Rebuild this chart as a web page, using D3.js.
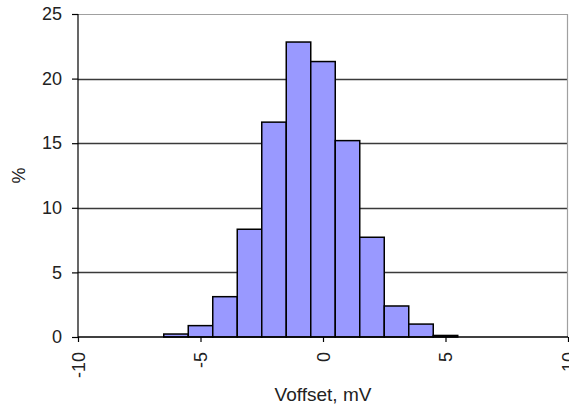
<!DOCTYPE html>
<html><head><meta charset="utf-8">
<script src="https://cdn.jsdelivr.net/npm/d3@7"></script>
<style>
html,body{margin:0;padding:0;background:#fff;}
svg{display:block;}
text{font-family:"Liberation Sans",Arial,sans-serif;fill:#222;}
</style></head>
<body>
<svg id="chart" width="569" height="407"></svg>
<script>
const binCenters = [-6, -5, -4, -3, -2, -1, 0, 1, 2, 3, 4, 5];
const percents = [0.23, 0.88, 3.12, 8.34, 16.63, 22.83, 21.32, 15.2, 7.72, 2.4, 1.0, 0.12];
const xTicks = [-10, -5, 0, 5, 10];
const yTicks = [0, 5, 10, 15, 20, 25];
const xLabel = "Voffset, mV";
const yLabel = "%";

(function () {
const svg = d3.select("#chart");
const pL = 78, pR = 568, pT = 14, pB = 337;
const x = d3.scaleLinear().domain([-10, 10]).range([pL, pR]);
const y = d3.scaleLinear().domain([0, 25]).range([pB, pT]);

// gridlines
svg.append("g").selectAll("line").data(yTicks.filter(d => d > 0 && d < 25)).join("line")
  .attr("x1", pL).attr("x2", pR)
  .attr("y1", d => Math.round(y(d)) + 0.5).attr("y2", d => Math.round(y(d)) + 0.5)
  .attr("stroke", "#3a3a3a").attr("stroke-width", 1.3);
// plot border top/right
svg.append("line").attr("x1", pL).attr("x2", pR).attr("y1", pT + 0.5).attr("y2", pT + 0.5)
  .attr("stroke", "#a0a0a0").attr("stroke-width", 1.2);
svg.append("line").attr("x1", pR - 0.5).attr("x2", pR - 0.5).attr("y1", pT).attr("y2", pB)
  .attr("stroke", "#a0a0a0").attr("stroke-width", 1.2);

// bars
svg.append("g").selectAll("rect").data(binCenters.map((c, i) => ({c, v: percents[i]}))).join("rect")
  .attr("x", d => x(d.c - 0.5))
  .attr("width", d => x(d.c + 0.5) - x(d.c - 0.5))
  .attr("y", d => y(d.v))
  .attr("height", d => y(0) - y(d.v))
  .attr("fill", "#9999ff")
  .attr("stroke", "#000")
  .attr("stroke-width", 1.5);

const fmt = d => String(d);

// y axis
const yAxis = d3.axisLeft(y).tickValues(yTicks).tickSize(6).tickPadding(10).tickFormat(fmt);
const gy = svg.append("g").attr("transform", `translate(${pL},0)`).call(yAxis);
gy.select(".domain").attr("stroke", "#000").attr("stroke-width", 1.2).attr("d", `M0,${pT}V${pB}`);
gy.selectAll(".tick line").attr("stroke", "#000").attr("stroke-width", 1.2);
gy.selectAll(".tick text").style("font-size", "18px").style("font-family", "Liberation Sans, Arial, sans-serif").attr("fill", "#222");

// x axis
const xAxis = d3.axisBottom(x).tickValues(xTicks).tickSize(5).tickFormat(fmt);
const gx = svg.append("g").attr("transform", `translate(0,${pB})`).call(xAxis);
gx.select(".domain").attr("stroke", "#000").attr("stroke-width", 1.3).attr("d", `M${pL},0H${pR}`);
gx.selectAll(".tick line").attr("stroke", "#000").attr("stroke-width", 1.2);
gx.selectAll(".tick text")
  .style("font-size", "18px").style("font-family", "Liberation Sans, Arial, sans-serif").attr("fill", "#222")
  .attr("text-anchor", "end")
  .attr("transform", "rotate(-90)")
  .attr("x", -15).attr("y", 0).attr("dy", "0.35em");

// axis titles
svg.append("text").attr("x", (pL + pR) / 2).attr("y", 401)
  .attr("text-anchor", "middle").style("font-size", "19px").text(xLabel);
svg.append("text").attr("transform", `translate(25,${(pT + pB) / 2}) rotate(-90)`)
  .attr("text-anchor", "middle").style("font-size", "18px").text(yLabel);
})();
</script>
</body></html>
